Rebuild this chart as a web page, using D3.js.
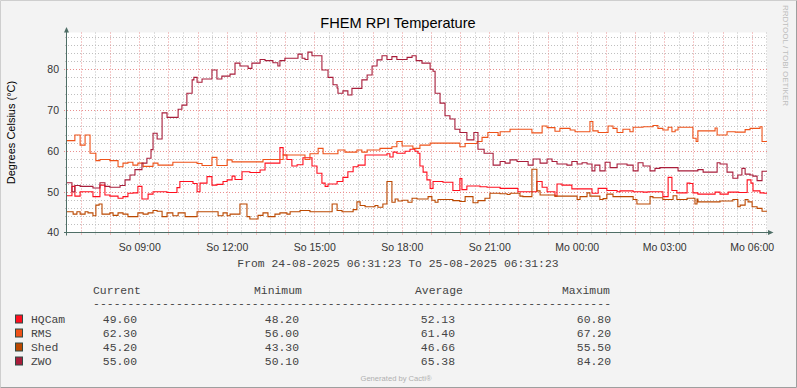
<!DOCTYPE html>
<html>
<head>
<meta charset="utf-8">
<script src="https://cdn.jsdelivr.net/npm/d3@7"></script>
<style>
  body { margin: 0; background: #fff; }
  svg { display: block; }
</style>
</head>
<body>
<script>
// readings: [hours after 24-08-2025 06:31:23, degrees C]
const hqcam = [[0,49.0],[0.17,51.3],[0.27,48.9],[0.45,50.0],[0.89,48.8],[1.13,51.6],[1.30,49.2],[1.47,48.9],[1.75,48.4],[1.92,48.8],[2.09,49.6],[2.26,49.7],[2.43,51.3],[2.57,48.2],[2.78,49.4],[2.95,50.0],[3.43,49.8],[3.77,51.0],[3.87,52.5],[4.32,52.0],[4.46,50.0],[4.56,52.1],[4.80,53.7],[4.97,51.6],[5.14,51.8],[5.35,52.5],[5.49,52.9],[5.66,53.8],[5.76,53.0],[6.00,54.9],[6.27,54.7],[6.62,55.3],[6.79,57.0],[7.30,60.8],[7.41,59.0],[7.54,57.9],[7.71,56.3],[7.89,56.6],[8.09,58.3],[8.40,56.3],[8.57,54.5],[8.74,52.1],[8.85,51.3],[8.95,51.9],[9.26,52.5],[9.46,53.5],[9.63,54.9],[9.81,56.1],[9.98,56.5],[10.22,59.0],[10.97,59.3],[11.07,58.5],[11.18,59.7],[11.31,59.4],[11.59,59.9],[11.76,60.4],[11.93,59.9],[12.03,59.4],[12.10,56.3],[12.21,54.8],[12.34,52.9],[12.45,50.8],[12.55,52.5],[12.89,52.3],[13.23,50.3],[13.47,53.2],[13.54,50.5],[13.71,51.4],[14.16,51.2],[14.40,51.1],[14.85,50.8],[15.46,50.0],[16.11,52.5],[16.29,51.1],[16.46,50.0],[16.73,48.9],[16.80,51.9],[16.97,51.6],[17.31,50.7],[18.00,49.6],[18.21,50.8],[18.51,50.3],[18.86,50.0],[18.96,50.2],[19.41,50.0],[19.75,49.9],[19.92,50.0],[20.43,48.8],[20.61,53.5],[20.74,50.3],[20.91,49.7],[21.26,52.1],[21.36,52.0],[21.46,49.7],[21.63,49.4],[22.22,49.9],[22.39,49.4],[22.67,49.9],[23.03,49.8],[23.32,52.9],[23.45,52.1],[23.52,50.2],[23.76,49.7],[23.90,49.6]];

const rms = [[0,62.5],[0.27,63.9],[0.45,61.4],[0.62,63.9],[0.79,59.4],[0.99,57.6],[1.13,57.9],[1.47,57.6],[1.75,56.1],[1.92,57.0],[2.09,57.2],[2.26,56.5],[2.43,57.0],[2.61,56.2],[2.95,57.0],[3.12,56.5],[3.63,57.2],[4.46,56.9],[4.63,56.4],[4.97,58.4],[5.14,56.4],[5.49,57.8],[5.66,57.3],[6.72,57.9],[7.41,59.0],[8.16,57.9],[8.33,59.3],[8.61,60.6],[8.78,59.3],[9.29,60.2],[9.53,59.7],[9.94,60.2],[10.11,59.7],[10.29,60.2],[10.73,60.6],[11.14,61.0],[11.31,62.3],[11.49,61.2],[11.86,60.6],[12.10,61.4],[12.45,61.9],[13.47,61.0],[13.65,61.8],[14.06,62.3],[14.23,63.3],[14.43,64.5],[14.78,63.8],[14.85,64.7],[15.19,65.3],[15.94,64.4],[16.29,66.1],[16.46,65.7],[16.73,64.8],[16.90,65.5],[17.25,65.1],[17.42,64.7],[17.93,67.2],[18.03,64.9],[18.21,64.5],[18.55,66.1],[18.72,65.5],[18.86,64.5],[19.06,65.3],[19.30,64.7],[19.41,65.8],[19.75,65.9],[20.09,66.2],[20.26,65.5],[20.43,65.1],[20.61,65.8],[20.74,64.7],[20.85,65.1],[20.95,65.8],[21.46,63.1],[21.57,62.3],[21.63,64.9],[22.22,65.6],[22.29,63.9],[22.63,64.7],[22.91,64.6],[23.25,65.2],[23.42,65.5],[23.76,65.9],[23.83,62.3]];

const shed = [[0,45.1],[0.21,44.5],[0.34,45.1],[0.45,44.5],[0.62,45.1],[0.72,44.8],[0.89,44.1],[0.99,46.7],[1.10,47.0],[1.20,44.5],[1.47,44.8],[1.58,44.2],[1.75,44.8],[1.92,44.5],[2.09,43.9],[2.43,44.8],[2.61,44.5],[2.78,44.8],[2.95,45.4],[3.09,45.2],[3.26,43.9],[3.43,44.8],[3.63,44.1],[3.81,44.8],[4.05,43.9],[4.46,45.1],[5.18,44.1],[5.35,44.8],[5.49,44.1],[5.59,44.5],[5.93,47.0],[6.17,43.9],[6.27,43.3],[6.55,44.2],[6.72,44.8],[6.89,43.9],[7.13,44.5],[7.30,44.8],[7.54,44.5],[7.65,45.1],[7.99,45.4],[8.33,45.1],[9.09,47.0],[9.26,45.4],[9.43,45.1],[9.81,45.6],[9.94,47.5],[10.05,46.6],[10.22,46.3],[10.56,46.6],[10.66,46.2],[10.83,47.0],[10.97,52.5],[11.14,47.4],[11.25,48.2],[11.35,47.7],[11.49,47.9],[11.69,47.4],[11.83,48.4],[12.00,48.2],[12.38,48.8],[12.51,47.9],[12.62,47.4],[12.72,48.1],[13.23,47.8],[13.47,47.6],[13.65,48.8],[13.92,47.3],[14.09,47.8],[14.33,48.4],[14.50,49.6],[14.85,49.5],[15.09,49.3],[15.19,49.6],[15.53,48.9],[15.63,48.8],[15.94,55.5],[16.11,50.2],[16.22,49.2],[16.73,48.9],[17.49,48.1],[17.59,48.8],[17.83,49.7],[17.93,48.9],[18.27,48.1],[18.38,48.3],[18.51,49.4],[18.72,48.8],[19.41,48.1],[19.54,47.0],[19.99,48.8],[20.09,48.5],[20.43,48.1],[20.78,49.0],[20.91,48.1],[21.26,48.4],[21.53,47.0],[21.60,48.2],[21.63,47.5],[22.39,47.7],[22.83,48.1],[23.00,46.3],[23.08,46.7],[23.25,48.1],[23.35,47.5],[23.49,46.3],[23.66,45.9],[23.83,45.2]];

const zwo = [[0,52.2],[0.17,50.0],[0.27,51.5],[0.45,51.3],[0.89,50.9],[1.13,52.2],[1.30,51.3],[1.47,51.1],[1.82,51.5],[1.99,52.9],[2.16,54.1],[2.33,55.4],[2.57,57.0],[2.74,58.2],[2.88,60.3],[2.95,64.3],[3.09,62.9],[3.26,69.3],[3.43,68.2],[3.81,70.2],[3.94,71.2],[4.11,74.1],[4.29,77.4],[4.35,78.0],[4.46,76.8],[4.63,77.6],[4.97,79.8],[5.14,77.6],[5.31,78.3],[5.59,78.8],[5.76,81.5],[5.93,80.8],[6.21,80.2],[6.34,81.5],[6.62,82.4],[6.79,82.1],[7.06,81.6],[7.23,80.8],[7.30,82.1],[7.47,82.7],[7.92,83.7],[8.06,82.7],[8.16,82.4],[8.26,84.2],[8.40,83.3],[8.74,79.8],[8.95,78.0],[9.12,76.2],[9.26,75.4],[9.29,74.1],[9.46,74.7],[9.63,73.7],[9.77,75.3],[10.11,77.4],[10.29,78.6],[10.46,80.8],[10.63,82.3],[10.80,83.3],[10.97,82.4],[11.14,83.1],[11.31,82.4],[11.66,82.9],[11.83,83.3],[11.97,82.1],[12.17,81.5],[12.45,80.0],[12.55,79.5],[12.62,74.1],[12.79,71.7],[12.96,68.6],[13.13,67.8],[13.30,65.3],[13.47,64.5],[13.71,62.7],[13.95,64.5],[14.09,60.4],[14.30,59.4],[14.61,56.5],[14.85,57.4],[15.02,57.0],[15.19,57.8],[15.43,57.4],[15.81,56.5],[15.98,58.0],[16.22,57.0],[16.46,58.0],[16.63,57.4],[16.80,56.8],[17.14,56.5],[17.31,57.4],[17.49,56.8],[17.66,57.1],[17.83,56.8],[18.00,55.1],[18.10,56.5],[18.27,55.1],[18.45,57.2],[18.62,55.9],[18.86,56.8],[19.20,56.5],[19.41,55.1],[19.58,57.1],[19.75,56.3],[19.99,55.1],[20.16,55.7],[20.33,55.9],[20.95,55.1],[21.63,55.4],[21.81,54.8],[22.29,57.1],[22.39,56.8],[22.63,54.8],[22.83,53.3],[23.00,54.1],[23.14,55.7],[23.25,54.3],[23.42,54.1],[23.52,53.8],[23.66,52.7],[23.83,55.0]];

const seriesNames = ["HQCam", "RMS", "Shed", "ZWO"];
const seriesColors = ["#ff0f1e", "#ee5219", "#bb4800", "#a81d3a"];
const currentVals = ["49.60", "62.30", "45.20", "55.00"];
const minimumVals = ["48.20", "56.00", "43.30", "50.10"];
const averageVals = ["52.13", "61.40", "46.66", "65.38"];
const maximumVals = ["60.80", "67.20", "55.50", "84.20"];
const legendHeads = ["Current", "Minimum", "Average", "Maximum"];
const yTickValues = [40, 50, 60, 70, 80];
const dayNames = ["So", "Mo", "Di", "Mi", "Do", "Fr", "Sa"];

const width = 797, height = 388;
const plotLeft = 67, plotRight = 767, plotTop = 32.5, plotBottom = 232.5;
const start = Date.UTC(2025, 7, 24, 6, 31, 23);
const toDate = h => new Date(start + h * 3600000);

const svg = d3.select("body").append("svg")
  .attr("width", width)
  .attr("height", height);

// canvas and its shaded frame
svg.append("rect").attr("width", width).attr("height", height).attr("fill", "#f3f3f3");
svg.append("path").attr("d", "M0.5,387.5V0.5H796.5").attr("fill", "none").attr("stroke", "#cecece");
svg.append("path").attr("d", "M0.5,387.5H796.5V0.5").attr("fill", "none").attr("stroke", "#9e9e9e");

const x = d3.scaleUtc()
  .domain([toDate(0), toDate(24)])
  .range([plotLeft, plotRight]);
const y = d3.scaleLinear()
  .domain([40, 89])
  .range([plotBottom, plotTop]);

svg.append("rect")
  .attr("x", plotLeft).attr("y", plotTop)
  .attr("width", plotRight - plotLeft).attr("height", plotBottom - plotTop)
  .attr("fill", "#fff");

const px = v => Math.round(v) + 0.5;

// grid
const grid = svg.append("g");
const yMinor = d3.range(42, 89, 2).filter(v => v % 10 !== 0);
const yMajor = d3.range(40, 89, 10);
const xMinor = x.ticks(d3.utcMinute.every(30)).filter(t => t.getUTCMinutes() !== 0);
const xMajor = x.ticks(d3.utcHour.every(1));

grid.selectAll(".hmin").data(yMinor).enter().append("line")
  .attr("x1", plotLeft - 2).attr("x2", plotRight)
  .attr("y1", d => px(y(d))).attr("y2", d => px(y(d)))
  .attr("stroke", "#bfbfbf").attr("stroke-dasharray", "1,2");
grid.selectAll(".vmin").data(xMinor).enter().append("line")
  .attr("y1", plotTop).attr("y2", plotBottom + 2)
  .attr("x1", d => px(x(d))).attr("x2", d => px(x(d)))
  .attr("stroke", "#bfbfbf").attr("stroke-dasharray", "1,2");
grid.selectAll(".hmaj").data(yMajor.filter(v => v > 40)).enter().append("line")
  .attr("x1", plotLeft - 3).attr("x2", plotRight)
  .attr("y1", d => px(y(d))).attr("y2", d => px(y(d)))
  .attr("stroke", "#e99090").attr("stroke-dasharray", "1,2");
grid.selectAll(".vmaj").data(xMajor).enter().append("line")
  .attr("y1", plotTop).attr("y2", plotBottom + 3)
  .attr("x1", d => px(x(d))).attr("x2", d => px(x(d)))
  .attr("stroke", "#e99090").attr("stroke-dasharray", "1,2");

// series lines
const line = d3.line()
  .x(d => x(toDate(d[0])))
  .y(d => y(d[1]))
  .curve(d3.curveStepAfter);

[hqcam, rms, shed, zwo].forEach(function(data, i) {
  const pts = data.concat([[24, data[data.length - 1][1]]]);
  svg.append("path")
    .datum(pts)
    .attr("fill", "none")
    .attr("stroke", seriesColors[i])
    .attr("stroke-width", 1.1)
    .attr("d", line);
});

// axes
const axisColor = "#4e6e66";
svg.append("line")
  .attr("x1", plotLeft - 0.5).attr("x2", plotLeft - 0.5)
  .attr("y1", plotBottom + 3).attr("y2", 30)
  .attr("stroke", axisColor);
svg.append("path").attr("d", "M64,32.5L66.5,27L69,32.5Z").attr("fill", axisColor);
svg.append("line")
  .attr("x1", plotLeft - 3).attr("x2", 770)
  .attr("y1", plotBottom).attr("y2", plotBottom)
  .attr("stroke", axisColor);
svg.append("path").attr("d", "M768,230L773.5,232.5L768,235Z").attr("fill", axisColor);

const yAxis = d3.axisLeft(y).tickValues(yTickValues).tickSize(0).tickPadding(8);
const gy = svg.append("g").attr("transform", "translate(" + plotLeft + ",0)").call(yAxis);
gy.select(".domain").remove();
gy.selectAll("text")
  .attr("font-family", "'Liberation Sans', Arial, sans-serif")
  .attr("font-size", "10.5px")
  .attr("fill", "#333");

const xAxis = d3.axisBottom(x)
  .ticks(d3.utcHour.every(3))
  .tickSize(0).tickPadding(11)
  .tickFormat(d => dayNames[d.getUTCDay()] + " " + d3.utcFormat("%H:%M")(d));
const gx = svg.append("g").attr("transform", "translate(0," + plotBottom + ")").call(xAxis);
gx.select(".domain").remove();
gx.selectAll("text")
  .attr("font-family", "'Liberation Sans', Arial, sans-serif")
  .attr("font-size", "10.5px")
  .attr("fill", "#333");

// titles
svg.append("text")
  .attr("x", 398).attr("y", 27.5)
  .attr("text-anchor", "middle")
  .attr("font-family", "'Liberation Sans', Arial, sans-serif")
  .attr("font-size", "14.6px")
  .attr("fill", "#000")
  .text("FHEM RPI Temperature");

svg.append("text")
  .attr("transform", "translate(14.5," + (plotTop + plotBottom) / 2 + ") rotate(-90)")
  .attr("text-anchor", "middle")
  .attr("font-family", "'Liberation Sans', Arial, sans-serif")
  .attr("font-size", "11px")
  .attr("fill", "#000")
  .text("Degrees Celsius (°C)");

svg.append("text")
  .attr("transform", "translate(783,5) rotate(90)")
  .attr("font-family", "'Liberation Sans', Arial, sans-serif")
  .attr("font-size", "8px")
  .attr("fill", "#bdbdbd")
  .text("RRDTOOL / TOBI OETIKER");

const mono = "'Liberation Mono', 'Courier New', monospace";
svg.append("text")
  .attr("x", 398).attr("y", 266.5)
  .attr("text-anchor", "middle")
  .attr("font-family", mono)
  .attr("font-size", "11.4px")
  .attr("fill", "#444")
  .text("From 24-08-2025 06:31:23 To 25-08-2025 06:31:23");

// legend
const headX = [93, 254, 415, 562];
const valEndX = [137, 299, 455, 611];
const legend = svg.append("g")
  .attr("font-family", mono)
  .attr("font-size", "11.4px")
  .attr("fill", "#444");

legend.selectAll(".head").data(legendHeads).enter().append("text")
  .attr("x", (d, i) => headX[i]).attr("y", 294)
  .text(d => d);
legend.append("text")
  .attr("x", 93).attr("y", 306.5)
  .attr("textLength", 518)
  .attr("lengthAdjust", "spacing")
  .text("-".repeat(75));

const cols = [currentVals, minimumVals, averageVals, maximumVals];
seriesNames.forEach(function(name, i) {
  const by = 322.5 + i * 14;
  legend.append("rect")
    .attr("x", 15.5).attr("y", by - 7.5)
    .attr("width", 7).attr("height", 8)
    .attr("fill", seriesColors[i])
    .attr("stroke", "#2f4a44");
  legend.append("text").attr("x", 31).attr("y", by).text(name);
  cols.forEach(function(vals, c) {
    legend.append("text")
      .attr("x", valEndX[c]).attr("y", by)
      .attr("text-anchor", "end")
      .text(vals[i]);
  });
});

svg.append("text")
  .attr("x", 396).attr("y", 380.5)
  .attr("text-anchor", "middle")
  .attr("font-family", "'Liberation Sans', Arial, sans-serif")
  .attr("font-size", "7.6px")
  .attr("fill", "#b0b0b0")
  .text("Generated by Cacti®");
</script>
</body>
</html>
